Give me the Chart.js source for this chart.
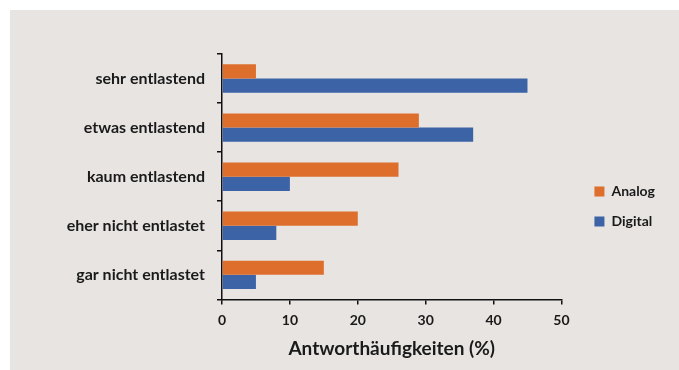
<!DOCTYPE html>
<html>
<head>
<meta charset="utf-8">
<script src="https://cdn.jsdelivr.net/npm/chart.js@4/dist/chart.umd.min.js"></script>
<style>
  html, body { margin: 0; padding: 0; background: #ffffff; }
  #box { position: absolute; left: 10px; top: 10px; width: 669px; height: 360px; background: #e8e4e1; }
</style>
</head>
<body>
<div id="box"><canvas id="myBarChart" width="669" height="360"></canvas></div>
<script>
const categories = ['sehr entlastend', 'etwas entlastend', 'kaum entlastend', 'eher nicht entlastet', 'gar nicht entlastet'];
const analogValues = [5, 29, 26, 20, 15];
const digitalValues = [45, 37, 10, 8, 5];
const xTicks = [0, 10, 20, 30, 40, 50];

const data1 = {
    labels: categories,
    datasets: [
        {
            label: 'Analog',
            data: analogValues,
            backgroundColor: '#de6e2c',
        },
        {
            label: 'Digital',
            data: digitalValues,
            backgroundColor: '#3d63a7',
        },
    ],
};

const config = {
    type: 'bar',
    data: data1,
    options: {
        indexAxis: 'y',
        responsive: false,
        animation: false,
        layout: {
            padding: { top: 44, bottom: 10, left: 0, right: 14 },
        },
        datasets: {
            bar: { categoryPercentage: 0.58, barPercentage: 1.0 },
        },
        scales: {
            x: {
                min: 0,
                max: 50,
                afterBuildTicks: (axis) => { axis.ticks = xTicks.map(v => ({ value: v })); },
                border: { color: '#111', width: 1.5 },
                grid: { drawOnChartArea: false, drawTicks: true, tickLength: 5, color: '#111', lineWidth: 1.5 },
                ticks: { color: '#1a1a1a', padding: 8, font: { family: 'Lato', size: 14, weight: 'bold' } },
                title: {
                    display: true,
                    text: 'Antworthäufigkeiten (%)',
                    color: '#1a1a1a',
                    font: { family: 'Lato', size: 19, weight: 'bold' },
                    padding: { top: 0, bottom: 0 },
                },
            },
            y: {
                border: { color: '#111', width: 1.5 },
                grid: { offset: true, drawOnChartArea: false, drawTicks: true, tickLength: 5, color: '#111', lineWidth: 1.5 },
                ticks: { color: '#1a1a1a', padding: 12, font: { family: 'Lato', size: 16, weight: 'bold' } },
                afterFit: (axis) => { axis.width = 212; },
            },
            // leerer Abstand zwischen Diagramm und Legende
            spacer: {
                type: 'linear',
                position: 'right',
                display: true,
                grid: { display: false },
                border: { display: false },
                ticks: { display: false },
                afterFit: (axis) => { axis.width = 17; },
            },
        },
        plugins: {
            legend: {
                position: 'right',
                align: 'start',
                title: { display: true, text: '', padding: { top: 100, bottom: 0 } },
                labels: {
                    color: '#1a1a1a',
                    boxWidth: 10,
                    boxHeight: 10,
                    padding: 16,
                    font: { family: 'Lato', size: 14, weight: 'bold' },
                },
            },
            tooltip: { enabled: false },
        },
    },
};

var ctx = document.getElementById('myBarChart').getContext('2d');
var myBarChart = new Chart(ctx, config);
</script>
</body>
</html>
